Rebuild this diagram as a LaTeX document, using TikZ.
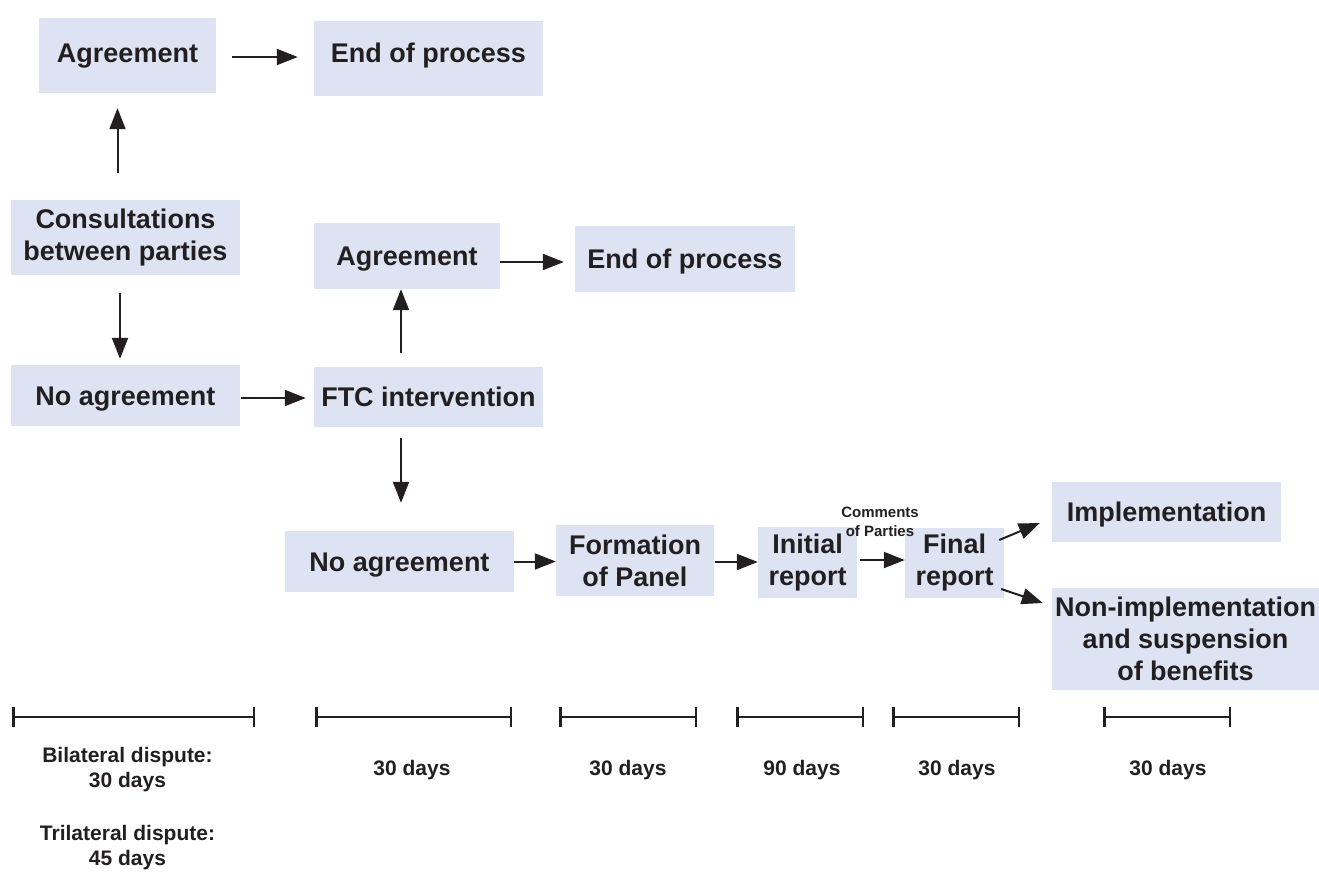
\documentclass[tikz,border=0pt]{standalone}
\usepackage{fontspec}
\setmainfont{Liberation Sans}
\usetikzlibrary{arrows.meta}
\definecolor{boxfill}{HTML}{DEE3F3}
\definecolor{ink}{HTML}{231F20}
\begin{document}
\begin{tikzpicture}[x=1pt,y=-1pt,
  every node/.style={text=ink},
  stage/.style={fill=boxfill, inner sep=0pt, font=\fontsize{27}{32}\selectfont\bfseries, align=center},
  oneline/.style={text height=25.65pt, text depth=6.32pt},
  area/.style n args={4}{minimum width={(#3-#1)*1pt}, minimum height={(#4-#2)*1pt}, at={({(#1+#3)/2},{(#2+#4)/2})}},
  flow/.style={draw=ink, line width=2pt, -{Triangle[length=21pt,width=16pt]}},
  period/.style={draw=ink, line width=2.5pt, {Bar[width=20pt]}-{Bar[width=20pt]}},
  days/.style={font=\fontsize{21}{25}\selectfont\bfseries, anchor=base},
  note/.style={font=\fontsize{15}{19}\selectfont\bfseries, anchor=base}]
\useasboundingbox (0,0) rectangle (1319,871);

% stages of the procedure
\node[stage, oneline, area={39}{18}{216}{93}, text depth=12.3pt] (agr1) {Agreement};
\node[stage, oneline, area={314}{21}{543}{96}, text depth=18.3pt] (end1) {End of process};
\node[stage, area={11}{200}{240}{275}] (cons) {Consultations\\between parties};
\node[stage, oneline, area={314}{223}{500}{289}] (agr2) {Agreement};
\node[stage, oneline, area={575}{226}{795}{292}] (end2) {End of process};
\node[stage, oneline, area={11}{365}{240}{426}] (noagr1) {No agreement};
\node[stage, oneline, area={314}{367}{543}{427}] (ftc) {FTC intervention};
\node[stage, oneline, area={285}{531}{514}{592}] (noagr2) {No agreement};
\node[stage, area={556}{525}{714}{596}] (panel) {Formation\\of Panel};
\node[stage, area={758}{527}{857}{598}] (initial) {Initial\\report};
\node[stage, area={905}{528}{1004}{598}] (final) {Final\\report};
\node[stage, oneline, area={1052}{482}{1281}{542}] (impl) {Implementation};
\node[stage, area={1052}{588}{1319}{690}] (nonimpl) {Non-implementation\\and suspension\\of benefits};

\node[note] (cmt1) at (880,517.5) {Comments};
\node[note] (cmt2) at (880,536.5) {of Parties};

% transitions
\draw[flow] ([shift={(16,1.5)}]agr1.east) -- ([shift={(-16,-1.5)}]end1.west);
\draw[flow] ([shift={(-8,-27)}]cons.north) -- ([shift={(-10,15)}]agr1.south);
\draw[flow] ([shift={(-5.5,18)}]cons.south) -- ([shift={(-5.5,-6)}]noagr1.north);
\draw[flow] ([shift={(1,2.5)}]noagr1.east) -- ([shift={(-8,1)}]ftc.west);
\draw[flow] ([shift={(-27.5,-14)}]ftc.north) -- ([shift={(-6,0)}]agr2.south);
\draw[flow] ([shift={(0,6)}]agr2.east) -- ([shift={(-11,3)}]end2.west);
\draw[flow] ([shift={(-27.5,11)}]ftc.south) -- ([shift={(1.5,-28)}]noagr2.north);
\draw[flow] (noagr2.east) -- ([shift={(0,1)}]panel.west);
\draw[flow] ([shift={(1,1.5)}]panel.east) -- ([shift={(0,-0.5)}]initial.west);
\draw[flow] ([shift={(3,-2.5)}]initial.east) -- ([shift={(0,-3)}]final.west);
\draw[flow] ([shift={(-5,-23)}]final.east) -- ([shift={(-12,11)}]impl.west);
\draw[flow] ([shift={(-3,26)}]final.east) -- ([shift={(-9,-36)}]nonimpl.west);

% time scale
\draw[period] (12,717) -- (255,717);
\draw[period] (315,717) -- (512,717);
\draw[period] (559,717) -- (697,717);
\draw[period] (736,717) -- (864,717);
\draw[period] (892,717) -- (1020,717);
\draw[period] (1103,717) -- (1231,717);

\node[days] (bil1) at (127.5,762) {Bilateral dispute:};
\node[days] (bil2) at (127.5,787) {30 days};
\node[days] (tri1) at (127.5,840) {Trilateral dispute:};
\node[days] (tri2) at (127.5,865.5) {45 days};
\node[days] (d2) at (412,775.5) {30 days};
\node[days] (d3) at (628,775.5) {30 days};
\node[days] (d4) at (802,775.5) {90 days};
\node[days] (d5) at (957,775.5) {30 days};
\node[days] (d6) at (1168,775.5) {30 days};
\end{tikzpicture}
\end{document}
